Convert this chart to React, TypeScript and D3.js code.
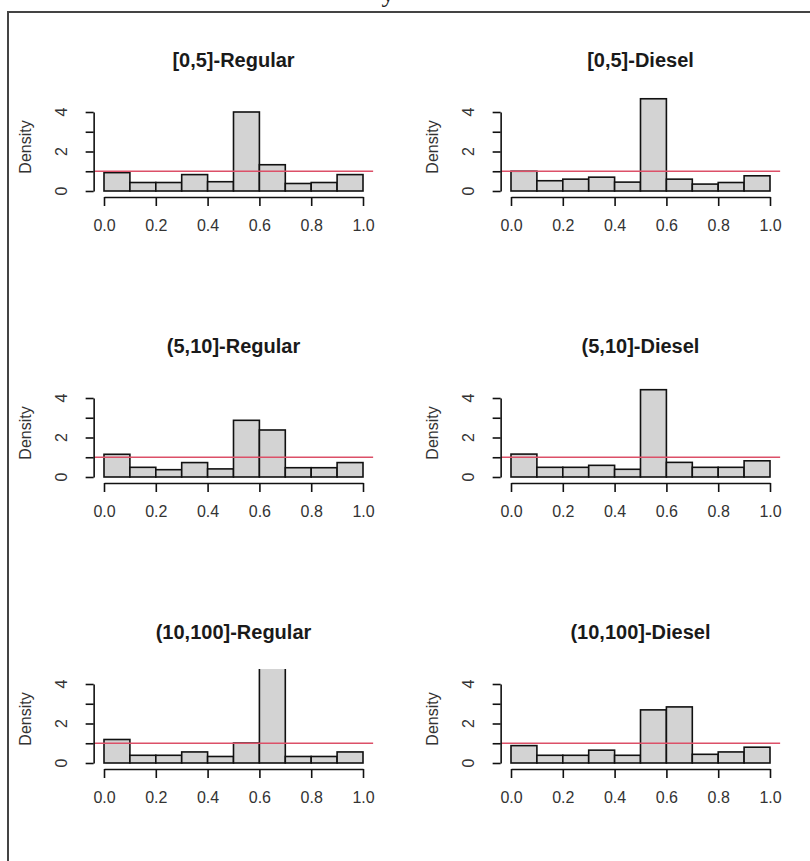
import * as d3 from "d3";
import { useEffect, useRef } from "react";

// histogram bins (density scale)
const breaks = [0, 0.1, 0.2, 0.3, 0.4, 0.5, 0.6, 0.7, 0.8, 0.9, 1.0];
const xTicks = [0, 0.2, 0.4, 0.6, 0.8, 1.0];
const yTicks = [0, 1, 2, 3, 4];
const yLabels = [0, 2, 4];

const titles = [
    "[0,5]-Regular", "[0,5]-Diesel",
    "(5,10]-Regular", "(5,10]-Diesel",
    "(10,100]-Regular", "(10,100]-Diesel"
];

const lowRegular = [0.93, 0.43, 0.43, 0.83, 0.47, 4.0, 1.33, 0.38, 0.43, 0.83];
const lowDiesel = [1.0, 0.52, 0.6, 0.7, 0.45, 4.67, 0.6, 0.35, 0.43, 0.77];
const midRegular = [1.15, 0.49, 0.37, 0.73, 0.41, 2.87, 2.38, 0.47, 0.47, 0.73];
const midDiesel = [1.16, 0.49, 0.49, 0.59, 0.39, 4.42, 0.74, 0.49, 0.49, 0.82];
const highRegular = [1.19, 0.39, 0.39, 0.56, 0.33, 1.01, 4.9, 0.33, 0.33, 0.56];
const highDiesel = [0.88, 0.39, 0.39, 0.65, 0.39, 2.69, 2.84, 0.44, 0.56, 0.8];

const uniformDensity = 1;

const series = [lowRegular, lowDiesel, midRegular, midDiesel, highRegular, highDiesel];

const FONT = "'Liberation Sans', Arial, sans-serif";

const App = () => {
    const ref = useRef<SVGSVGElement>(null);

    useEffect(() => {
        renderPlot(ref.current);
    });

    return (
        <svg ref={ref} width="810" height="861"
            style={{ position: "absolute", left: 0, top: 0, background: "white" }} />
    );
};

const renderPlot = (node: SVGSVGElement | null) => {
    if (!node) return;
    const svg = d3.select(node);
    svg.selectAll("*").remove();

    var colLeft = [104, 511], panelWidth = 259;
    var rowBase = [191, 477, 763], unitsHeight = 79;

    // caption above the frame, cut off by the screenshot
    svg.append("text")
        .attr("x", 388).attr("y", 2)
        .attr("text-anchor", "middle")
        .style("font-family", "'Liberation Serif', serif")
        .style("font-size", "26px")
        .attr("fill", "#222")
        .text("y");

    svg.append("rect")
        .attr("x", 8).attr("y", 12)
        .attr("width", 840).attr("height", 900)
        .attr("fill", "none")
        .attr("stroke", "#444")
        .attr("stroke-width", 2);

    series.forEach((values, i) => {
        var col = i % 2, row = Math.floor(i / 2);
        var xScale = d3.scaleLinear().domain([0, 1]).range([colLeft[col], colLeft[col] + panelWidth]);
        var yScale = d3.scaleLinear().domain([0, 4]).range([rowBase[row], rowBase[row] - unitsHeight]);

        var g = svg.append("g");
        var clipId = "clip" + i;
        g.append("clipPath").attr("id", clipId)
            .append("rect")
            .attr("x", xScale(-0.04))
            .attr("y", yScale(4.76))
            .attr("width", xScale(1.04) - xScale(-0.04))
            .attr("height", yScale(-0.3) - yScale(4.76));

        var plot = g.append("g").attr("clip-path", "url(#" + clipId + ")");

        plot.selectAll("rect.bar")
            .data(values)
            .enter()
            .append("rect")
            .classed("bar", true)
            .attr("x", (d, j) => xScale(breaks[j]))
            .attr("y", d => yScale(d))
            .attr("width", (d, j) => xScale(breaks[j + 1]) - xScale(breaks[j]))
            .attr("height", d => yScale(0) - yScale(d))
            .attr("fill", "#d3d3d3")
            .attr("stroke", "#111")
            .attr("stroke-width", 1.6);

        plot.append("line")
            .attr("x1", xScale(-0.04)).attr("x2", xScale(1.04))
            .attr("y1", yScale(uniformDensity)).attr("y2", yScale(uniformDensity))
            .attr("stroke", "#dc5068")
            .attr("stroke-width", 1.4);

        // x axis
        var xAxis = g.append("g")
            .attr("transform", "translate(0," + (rowBase[row] + 6) + ")");
        d3.axisBottom(xScale)
            .tickValues(xTicks)
            .tickSize(9)
            .tickSizeOuter(0)
            .tickPadding(14)
            .tickFormat(d3.format(".1f"))(xAxis);

        // y axis
        var yx = xScale(-0.04);
        var yAxis = g.append("g")
            .attr("transform", "translate(" + yx + ",0)");
        d3.axisLeft(yScale)
            .tickValues(yTicks)
            .tickSize(8)
            .tickSizeOuter(0)
            .tickFormat(() => "")(yAxis);

        [xAxis, yAxis].forEach(a => {
            a.selectAll("path, line").attr("stroke", "#111").attr("stroke-width", 1.6);
            a.selectAll("text")
                .attr("fill", "#333")
                .style("font-family", FONT)
                .style("font-size", "16px");
        });

        g.selectAll("text.ylab")
            .data(yLabels)
            .enter()
            .append("text")
            .classed("ylab", true)
            .attr("transform", d => "translate(" + (yx - 32) + "," + yScale(d) + ") rotate(-90)")
            .attr("text-anchor", "middle")
            .attr("dy", "0.35em")
            .attr("fill", "#333")
            .style("font-family", FONT)
            .style("font-size", "16px")
            .text(d => d);

        g.append("text")
            .attr("transform", "translate(" + (yx - 68) + "," + ((yScale(4.76) + yScale(-0.3)) / 2) + ") rotate(-90)")
            .attr("text-anchor", "middle")
            .attr("dy", "0.35em")
            .attr("fill", "#333")
            .style("font-family", FONT)
            .style("font-size", "16px")
            .text("Density");

        g.append("text")
            .attr("x", (xScale(0) + xScale(1)) / 2)
            .attr("y", rowBase[row] - 124)
            .attr("text-anchor", "middle")
            .attr("fill", "#1a1a1a")
            .style("font-family", FONT)
            .style("font-weight", "bold")
            .style("font-size", "20px")
            .text(titles[i]);
    });
};

export default App;
